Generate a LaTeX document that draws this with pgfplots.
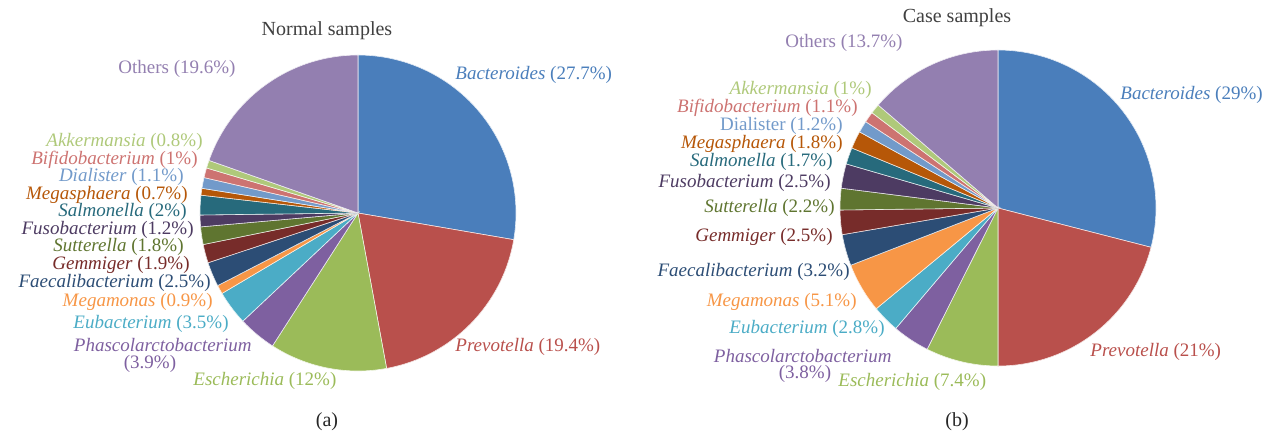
\documentclass[border=0pt]{standalone}
\usepackage{fontspec}
\setmainfont{Liberation Serif}
\usepackage{pgfplots}
\pgfplotsset{compat=1.18}
\definecolor{cBac}{HTML}{4A7EBB}
\definecolor{cPre}{HTML}{B9504C}
\definecolor{cEsc}{HTML}{9BBB59}
\definecolor{cPha}{HTML}{7E60A0}
\definecolor{cEub}{HTML}{4BACC6}
\definecolor{cMgm}{HTML}{F79646}
\definecolor{cFae}{HTML}{2C4D75}
\definecolor{cGem}{HTML}{772C2A}
\definecolor{cSut}{HTML}{5F7530}
\definecolor{cFus}{HTML}{4D3B62}
\definecolor{cSal}{HTML}{276A7C}
\definecolor{cMgs}{HTML}{B65708}
\definecolor{cDia}{HTML}{729ACA}
\definecolor{cBif}{HTML}{CD7371}
\definecolor{cAkk}{HTML}{AFC97A}
\definecolor{cOth}{HTML}{937FB0}
\definecolor{cTitle}{HTML}{404040}
\begin{document}
\begin{tikzpicture}
\begin{axis}[scale only axis, width=640pt, height=218pt,
  xmin=0, xmax=1280, ymin=0, ymax=436, y dir=reverse,
  hide axis, clip=false]
\path (rel axis cs:0,0) rectangle (rel axis cs:1,1);
% ---- Normal samples ----
\foreach \v/\c [remember=\e as \s (initially 90)] in
 {27.7/cBac, 19.4/cPre, 12/cEsc, 3.9/cPha, 3.5/cEub, 0.9/cMgm, 2.5/cFae, 1.9/cGem,
  1.8/cSut, 1.2/cFus, 2/cSal, 0.7/cMgs, 1.1/cDia, 1/cBif, 0.8/cAkk, 19.6/cOth} {
  \pgfmathsetmacro{\e}{\s-3.6*\v}
  \edef\temp{\noexpand\fill[\c, draw=white!85!\c, line width=0.3pt] (axis cs:358,213) -- ++(\s:79pt) arc[start angle=\s, end angle=\e, radius=79pt] -- cycle;}
  \temp
}
% ---- Case samples ----
\foreach \v/\c [remember=\e as \s (initially 90)] in
 {29/cBac, 21/cPre, 7.4/cEsc, 3.8/cPha, 2.8/cEub, 5.1/cMgm, 3.2/cFae, 2.5/cGem,
  2.2/cSut, 2.5/cFus, 1.7/cSal, 1.8/cMgs, 1.2/cDia, 1.1/cBif, 1/cAkk, 13.7/cOth} {
  \pgfmathsetmacro{\e}{\s-3.6*\v}
  \edef\temp{\noexpand\fill[\c, draw=white!85!\c, line width=0.3pt] (axis cs:998,208) -- ++(\s:79pt) arc[start angle=\s, end angle=\e, radius=79pt] -- cycle;}
  \temp
}
\tikzset{lab/.style={inner sep=0pt, font=\fontsize{9.5}{11}\selectfont}}
% ---- labels (a) ----
\node[lab, text=cTitle, font=\fontsize{10}{12}\selectfont] at (axis cs:327,31) {Normal samples};
\node[lab, text=cOth] at (axis cs:177,69) {Others (19.6\%)};
\node[lab, text=cBac, anchor=west] at (axis cs:455,75) {\textit{Bacteroides} (27.7\%)};
\node[lab, text=cPre, anchor=west] at (axis cs:455,347) {\textit{Prevotella} (19.4\%)};
\node[lab, text=cEsc, anchor=west] at (axis cs:193,381) {\textit{Escherichia} (12\%)};
\node[lab, text=cAkk, anchor=east] at (axis cs:203,142) {\textit{Akkermansia} (0.8\%)};
\node[lab, text=cBif, anchor=east] at (axis cs:198,159.5) {\textit{Bifidobacterium} (1\%)};
\node[lab, text=cDia, anchor=east] at (axis cs:184,177) {\textit{Dialister} (1.1\%)};
\node[lab, text=cMgs, anchor=east] at (axis cs:188,194.5) {\textit{Megasphaera} (0.7\%)};
\node[lab, text=cSal, anchor=east] at (axis cs:187,212) {\textit{Salmonella} (2\%)};
\node[lab, text=cFus, anchor=east] at (axis cs:194,229.5) {\textit{Fusobacterium} (1.2\%)};
\node[lab, text=cSut, anchor=east] at (axis cs:184,247) {\textit{Sutterella} (1.8\%)};
\node[lab, text=cGem, anchor=east] at (axis cs:190,264.5) {\textit{Gemmiger} (1.9\%)};
\node[lab, text=cFae, anchor=east] at (axis cs:211,282.5) {\textit{Faecalibacterium} (2.5\%)};
\node[lab, text=cMgm, anchor=east] at (axis cs:213,302) {\textit{Megamonas} (0.9\%)};
\node[lab, text=cEub, anchor=east] at (axis cs:229,324) {\textit{Eubacterium} (3.5\%)};
\node[lab, text=cPha, anchor=east] at (axis cs:252,345) {\textit{Phascolarctobacterium}};
\node[lab, text=cPha] at (axis cs:150,363.5) {(3.9\%)};
\node[lab, text=black!85, font=\fontsize{10}{12}\selectfont] at (axis cs:327,422) {(a)};
% ---- labels (b) ----
\node[lab, text=cTitle, font=\fontsize{10}{12}\selectfont] at (axis cs:957,18) {Case samples};
\node[lab, text=cOth] at (axis cs:844,43) {Others (13.7\%)};
\node[lab, text=cBac, anchor=west] at (axis cs:1120,95) {\textit{Bacteroides} (29\%)};
\node[lab, text=cPre, anchor=west] at (axis cs:1090,352) {\textit{Prevotella} (21\%)};
\node[lab, text=cEsc, anchor=west] at (axis cs:838,382) {\textit{Escherichia} (7.4\%)};
\node[lab, text=cAkk, anchor=east] at (axis cs:872,90) {\textit{Akkermansia} (1\%)};
\node[lab, text=cBif, anchor=east] at (axis cs:858,108) {\textit{Bifidobacterium} (1.1\%)};
\node[lab, text=cDia, anchor=east] at (axis cs:843,126) {Dialister (1.2\%)};
\node[lab, text=cMgs, anchor=east] at (axis cs:843,144) {\textit{Megasphaera} (1.8\%)};
\node[lab, text=cSal, anchor=east] at (axis cs:833,162) {\textit{Salmonella} (1.7\%)};
\node[lab, text=cFus, anchor=east] at (axis cs:831,183) {\textit{Fusobacterium} (2.5\%)};
\node[lab, text=cSut, anchor=east] at (axis cs:835,208) {\textit{Sutterella} (2.2\%)};
\node[lab, text=cGem, anchor=east] at (axis cs:833,237) {\textit{Gemmiger} (2.5\%)};
\node[lab, text=cFae, anchor=east] at (axis cs:850,272) {\textit{Faecalibacterium} (3.2\%)};
\node[lab, text=cMgm, anchor=east] at (axis cs:857,302) {\textit{Megamonas} (5.1\%)};
\node[lab, text=cEub, anchor=east] at (axis cs:885,329) {\textit{Eubacterium} (2.8\%)};
\node[lab, text=cPha, anchor=east] at (axis cs:892,356) {\textit{Phascolarctobacterium}};
\node[lab, text=cPha] at (axis cs:805,374) {(3.8\%)};
\node[lab, text=black!85, font=\fontsize{10}{12}\selectfont] at (axis cs:957,422) {(b)};
\end{axis}
\end{tikzpicture}
\end{document}
